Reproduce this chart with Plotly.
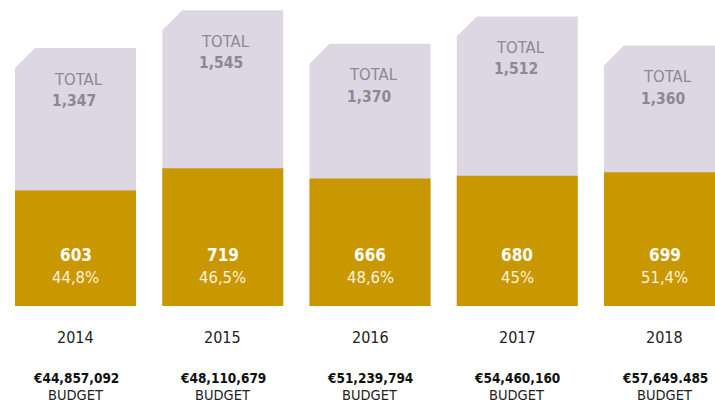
import plotly.graph_objects as go

years = ["2014", "2015", "2016", "2017", "2018"]
totals = [1347, 1545, 1370, 1512, 1360]
parts = [603, 719, 666, 680, 699]
pct_labels = ["44,8%", "46,5%", "48,6%", "45%", "51,4%"]
total_labels = ["1,347", "1,545", "1,370", "1,512", "1,360"]
budgets = ["€44,857,092", "€48,110,679", "€51,239,794", "€54,460,160", "€57,649.485"]

W, H = 715, 409
PX_X = 147.25          # px per category unit
PX_Y = 306 / 1598.0    # px per value unit
x0 = -75.5 / PX_X
x1 = x0 + W / PX_X
BW = 121 / PX_X

FONT = "Liberation Sans Narrow, DejaVu Sans Condensed, Arial Narrow, sans-serif"
GOLD = "#C99700"
LAV = "#DCD7E2"
GREY = "#8F8696"

xs = list(range(len(years)))

fig = go.Figure()
fig.add_bar(x=xs, y=totals, width=BW, marker=dict(color=LAV, line=dict(width=0)), hoverinfo="skip")
fig.add_bar(x=xs, y=parts, width=BW, marker=dict(color=GOLD, line=dict(width=0)), hoverinfo="skip")

cx = 22 / PX_X
cy = 22 / PX_Y
shapes = []
for i, t in zip(xs, totals):
    left = i - BW / 2
    pad_x = 2 / PX_X
    pad_y = 2 / PX_Y
    path = (f"M {left - pad_x},{t - cy} L {left + cx},{t + pad_y} "
            f"L {left - pad_x},{t + pad_y} Z")
    shapes.append(dict(type="path", path=path, xref="x", yref="y",
                       fillcolor="white", line=dict(width=0), layer="above"))

ann = []
for i, t in zip(xs, totals):
    ann.append(dict(x=i - 23.5 / PX_X, y=t, xref="x", yref="y", text="TOTAL",
                    xanchor="left", yanchor="middle", yshift=-31, showarrow=False,
                    font=dict(family=FONT, size=16.5, color=GREY)))
    ann.append(dict(x=i - 25.5 / PX_X, y=t, xref="x", yref="y",
                    text=f"<b>{total_labels[i]}</b>",
                    xanchor="left", yanchor="middle", yshift=-53, showarrow=False,
                    font=dict(family=FONT, size=15.5, color=GREY)))
    ann.append(dict(x=i, y=0, xref="x", yref="y", text=f"<b>{parts[i]}</b>",
                    xanchor="center", yanchor="middle", yshift=51, showarrow=False,
                    font=dict(family=FONT, size=17, color="white")))
    ann.append(dict(x=i, y=0, xref="x", yref="y", text=pct_labels[i],
                    xanchor="center", yanchor="middle", yshift=29, showarrow=False,
                    font=dict(family=FONT, size=16.5, color="#FBF3DC")))
    ann.append(dict(x=i, y=0, xref="x", yref="y", text=years[i],
                    xanchor="center", yanchor="middle", yshift=-31, showarrow=False,
                    font=dict(family=FONT, size=16, color="#222222")))
    ann.append(dict(x=i, y=0, xref="x", yref="y", text=f"<b>{budgets[i]}</b>",
                    xanchor="center", yanchor="middle", yshift=-72, showarrow=False,
                    font=dict(family=FONT, size=13.5, color="#111111")))
    ann.append(dict(x=i, y=0, xref="x", yref="y", text="BUDGET",
                    xanchor="center", yanchor="middle", yshift=-89, showarrow=False,
                    font=dict(family=FONT, size=14.5, color="#222222")))

fig.update_layout(
    width=W, height=H,
    margin=dict(l=0, r=0, t=0, b=103),
    barmode="overlay",
    paper_bgcolor="white", plot_bgcolor="white",
    showlegend=False,
    xaxis=dict(range=[x0, x1], visible=False, fixedrange=True),
    yaxis=dict(range=[0, 1598], visible=False, fixedrange=True),
    shapes=shapes,
    annotations=ann,
)

fig.write_html("out.html", config={"displayModeBar": False},
               post_script="document.body.style.margin='0';document.body.style.overflow='hidden';")
